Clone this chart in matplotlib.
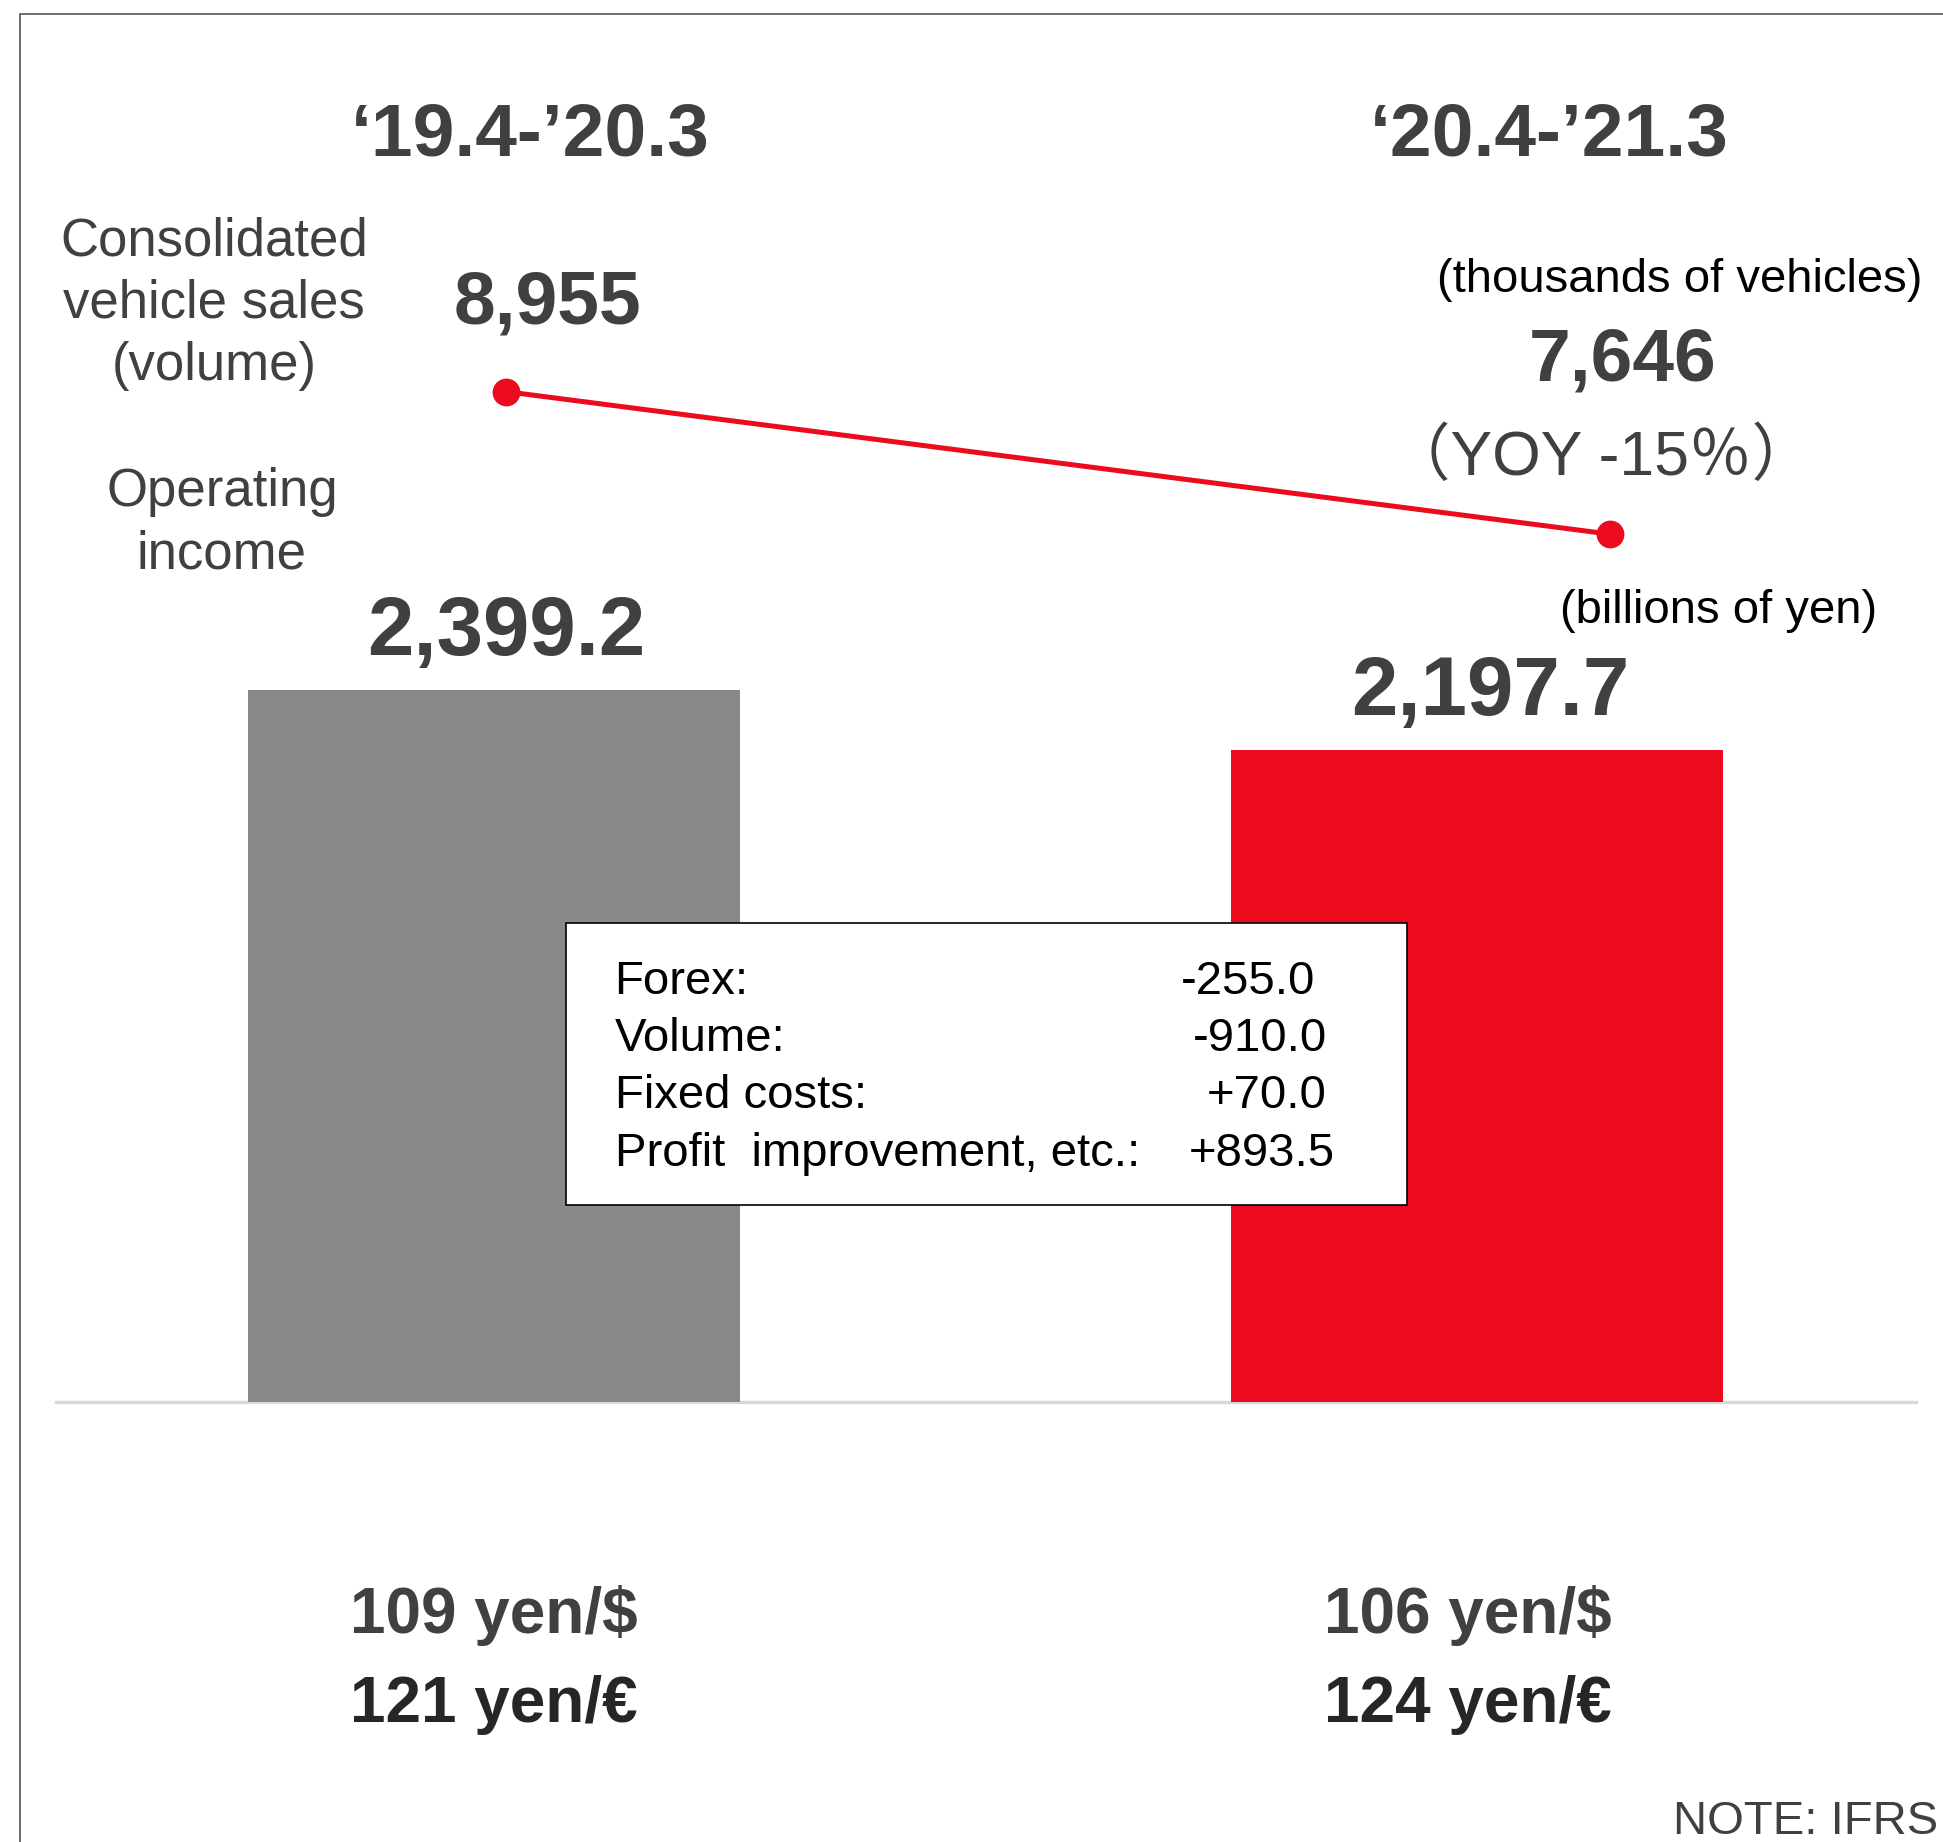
import matplotlib.pyplot as plt
from matplotlib.patches import Rectangle

plt.rcParams['font.family'] = ['Liberation Sans', 'Noto Sans CJK JP', 'DejaVu Sans']

# figures
periods = ["‘19.4-’20.3", "‘20.4-’21.3"]
operating_income = [2399.2, 2197.7]       # billions of yen
vehicle_sales = [8955, 7646]              # thousands of vehicles
yoy_text = "（YOY -15％）"
usd_rates = [109, 106]
eur_rates = [121, 124]
factor_names = ["Forex:", "Volume:", "Fixed costs:", "Profit  improvement, etc.:"]
factor_values = [-255.0, -910.0, 70.0, 893.5]

GRAY = "#898989"
RED = "#EB0A1E"
DARK = "#404040"

W, H = 1943, 1842
fig = plt.figure(figsize=(W / 100, H / 100), dpi=100)


def fx(px):
    return px / W


def fy(py):
    return 1 - py / H


# outer frame (runs off the right and bottom edges)
fig.patches.append(Rectangle((fx(20), fy(H + 20)), 1.1, fy(14) - fy(H + 20),
                             transform=fig.transFigure, fill=False,
                             edgecolor="#555555", lw=1.2))

# bars
ax = fig.add_axes([fx(56), fy(1402), fx(1916) - fx(56), 1 - fy(1402)])
ax.set_xlim(-0.4454, 1.4461)
ax.set_ylim(0, 4725.6)
ax.axis('off')
ax.axhline(0, color="#D9D9D9", lw=2.4, clip_on=False, zorder=1)
ax.bar([0, 1], operating_income, width=0.5, color=[GRAY, RED], zorder=2)
for i, v in enumerate(operating_income):
    ax.annotate(f"{v:,.1f}", xy=(i, v), xytext=(9, 25), textcoords='offset points',
                ha='center', va='baseline', fontsize=60, fontweight='bold', color=DARK)

# vehicle sales line
axl = fig.add_axes([fx(505.6), fy(534.1), fx(1609.7) - fx(505.6), fy(391.6) - fy(534.1)])
axl.set_xlim(0, 1)
axl.set_ylim(min(vehicle_sales), max(vehicle_sales))
axl.axis('off')
axl.plot([0, 1], vehicle_sales, color=RED, lw=3.6, marker='o', markersize=19,
         clip_on=False)

# period headers
fig.text(fx(530), fy(136), periods[0], ha='center', va='center', fontsize=54,
         fontweight='bold', color=DARK)
fig.text(fx(1549), fy(136), periods[1], ha='center', va='center', fontsize=54,
         fontweight='bold', color=DARK)

# left-side captions
fig.text(fx(214), fy(304), "Consolidated\nvehicle sales\n(volume)", ha='center',
         va='center', fontsize=38, color=DARK, linespacing=1.32)
fig.text(fx(222), fy(523), "Operating\nincome", ha='center', va='center',
         fontsize=38, color=DARK, linespacing=1.32)

# sales values
fig.text(fx(548), fy(304), f"{vehicle_sales[0]:,}", ha='center', va='center',
         fontsize=54, fontweight='bold', color=DARK)
fig.text(fx(1623), fy(361), f"{vehicle_sales[1]:,}", ha='center', va='center',
         fontsize=54, fontweight='bold', color=DARK)
fig.text(fx(1680), fy(280), "(thousands of vehicles)", ha='center', va='center',
         fontsize=34, color='black')
fig.text(fx(1601), fy(458), yoy_text, ha='center', va='center', fontsize=45,
         color=DARK)
fig.text(fx(1719), fy(611), "(billions of yen)", ha='center', va='center',
         fontsize=34, color='black')

# breakdown box
fig.patches.append(Rectangle((fx(566.3), fy(1204.5)), fx(1406.5) - fx(566.3),
                             fy(923.2) - fy(1204.5), transform=fig.transFigure,
                             facecolor='white', edgecolor='black', lw=1.2, zorder=5))
value_right = [1315, 1327, 1327, 1335]
for k, (name, val) in enumerate(zip(factor_names, factor_values)):
    y = 981.5 + k * 57.4
    fig.text(fx(614.6), fy(y), name, ha='left', va='center', fontsize=34,
             color='black', zorder=6)
    fig.text(fx(value_right[k]), fy(y), f"{val:+.1f}", ha='right', va='center',
             fontsize=34, color='black', zorder=6)

# exchange rates
rate_x = [494, 1468]
for i in range(2):
    fig.text(fx(rate_x[i]), fy(1615), f"{usd_rates[i]} yen/$", ha='center', va='center',
             fontsize=46, fontweight='bold', color=DARK)
    fig.text(fx(rate_x[i]), fy(1705), f"{eur_rates[i]} yen/€", ha='center', va='center',
             fontsize=46, fontweight='bold', color="#262626")

fig.text(fx(1673), fy(1822), "NOTE: IFRS", ha='left', va='center', fontsize=34,
         color=DARK)

fig.savefig("out.png", dpi=100)
